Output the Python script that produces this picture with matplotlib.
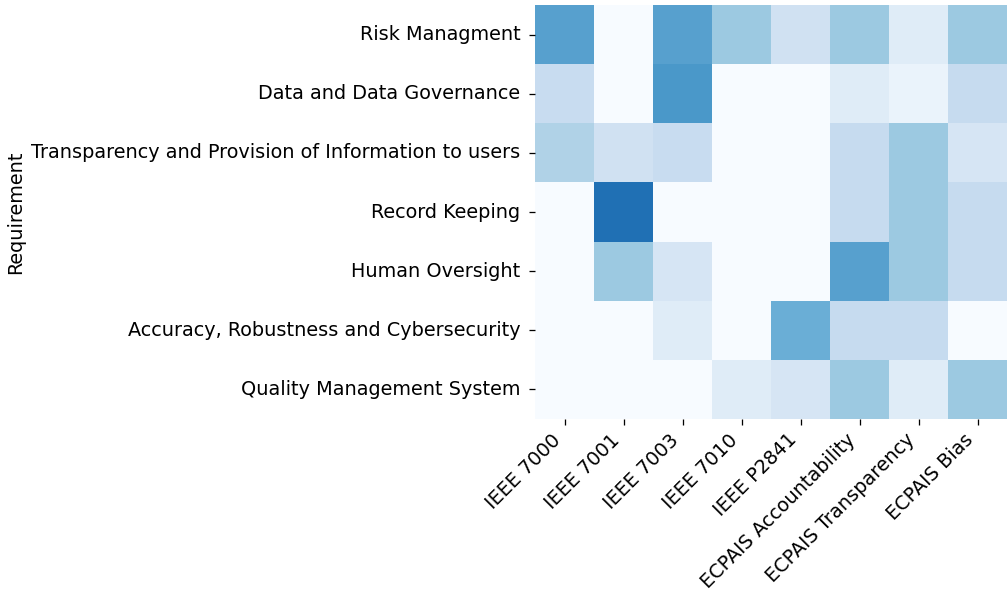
import numpy as np
import pandas as pd
import matplotlib
matplotlib.use("Agg")
import matplotlib.pyplot as plt
import seaborn as sns

requirements = ["Risk Managment", "Data and Data Governance",
                "Transparency and Provision of Information to users",
                "Record Keeping", "Human Oversight",
                "Accuracy, Robustness and Cybersecurity",
                "Quality Management System"]
standards = ["IEEE 7000", "IEEE 7001", "IEEE 7003", "IEEE 7010", "IEEE P2841",
             "ECPAIS Accountability", "ECPAIS Transparency", "ECPAIS Bias"]

# coverage score per requirement (rows) and standard (columns)
risk = [0.56, 0.0, 0.56, 0.38, 0.20, 0.38, 0.12, 0.38]
data_gov = [0.24, 0.0, 0.60, 0.0, 0.0, 0.12, 0.065, 0.25]
transparency = [0.32, 0.20, 0.24, 0.0, 0.0, 0.25, 0.38, 0.17]
record = [0.0, 0.75, 0.0, 0.0, 0.0, 0.25, 0.38, 0.25]
oversight = [0.0, 0.38, 0.17, 0.0, 0.0, 0.56, 0.38, 0.25]
accuracy = [0.0, 0.0, 0.12, 0.0, 0.50, 0.25, 0.25, 0.0]
quality = [0.0, 0.0, 0.0, 0.12, 0.17, 0.38, 0.12, 0.38]

df = pd.DataFrame([risk, data_gov, transparency, record, oversight, accuracy, quality],
                  index=requirements, columns=standards)

dpi = 115.4
fig = plt.figure(figsize=(1007 / dpi, 594 / dpi), dpi=dpi)
ax = fig.add_axes([535 / 1007, 1 - 419 / 594, 472 / 1007, 414 / 594])
sns.heatmap(df, cmap="Blues", vmin=0, vmax=1, cbar=False, ax=ax)

ax.set_ylabel("Requirement", fontsize=12)
ax.set_xlabel("")
ax.tick_params(labelsize=12)
ax.tick_params(axis="y", pad=5.5)
plt.setp(ax.get_xticklabels(), rotation=45, ha="right")
plt.setp(ax.get_yticklabels(), rotation=0)

fig.savefig("out.png", dpi=dpi)
